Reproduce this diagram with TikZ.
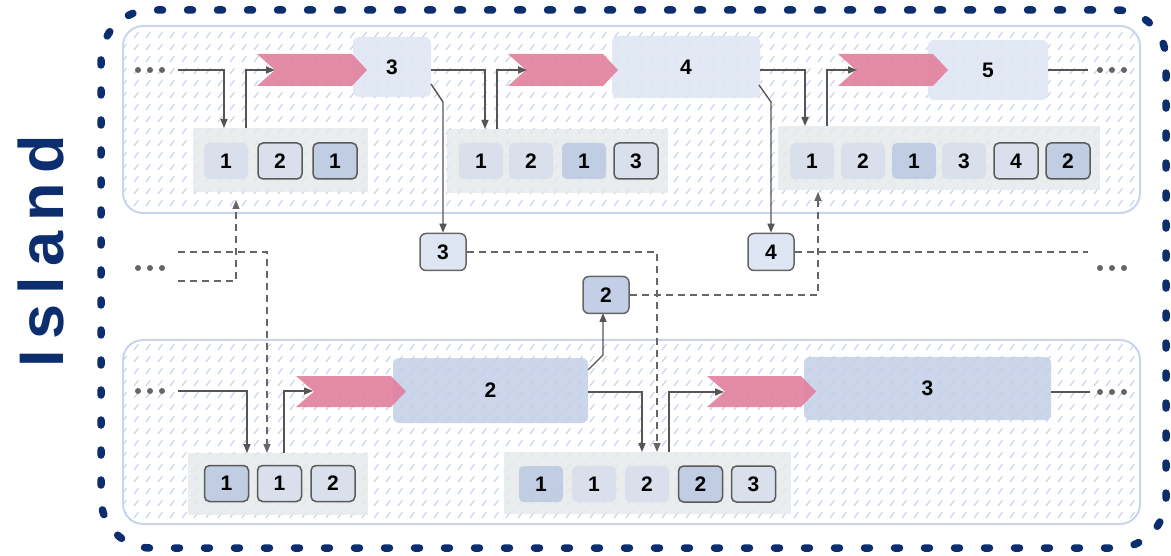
\documentclass[tikz,border=0pt]{standalone}
\usepackage{fontspec}
\setmainfont{Liberation Sans}
\newfontfamily\islandfont[LetterSpace=16]{Liberation Sans}
\usetikzlibrary{arrows.meta,patterns}

\pgfdeclarepatternformonly{hatchdash}{\pgfqpoint{0pt}{0pt}}{\pgfqpoint{12pt}{12pt}}{\pgfqpoint{12pt}{12pt}}{%
  \pgfsetlinewidth{0.9pt}%
  \pgfpathmoveto{\pgfqpoint{2pt}{2pt}}%
  \pgfpathlineto{\pgfqpoint{7pt}{8.5pt}}%
  \pgfusepath{stroke}}

\definecolor{navy}{HTML}{0C2D6E}
\definecolor{laneb}{HTML}{C9D5EC}
\definecolor{hatchc}{HTML}{B7C7E4}
\definecolor{stripc}{HTML}{E6EAEC}
\definecolor{cellL}{HTML}{D7DEEC}
\definecolor{cellD}{HTML}{B9C8E1}
\definecolor{bigL}{HTML}{DFE6F3}
\definecolor{bigD}{HTML}{C2CFE7}
\definecolor{pinkc}{HTML}{E27F9D}
\definecolor{linec}{HTML}{555555}
\definecolor{dashc}{HTML}{666666}
\definecolor{edgec}{HTML}{5A5A5A}

\newcommand\mynum{\fontsize{21}{24}\selectfont\bfseries}
\newcommand\mychev[4]{\fill[pinkc, fill opacity=.9] (#1,#3) -- ({#2-15},#3) -- (#2,{(#3+#4)/2}) -- ({#2-15},#4) -- (#1,#4) -- ({#1+18},{(#3+#4)/2}) -- cycle;}
\newcommand\mydots[2]{\fill[dashc] (#1,#2) circle (3pt) ({#1+12},#2) circle (3pt) ({#1+24},#2) circle (3pt);}

\tikzset{
  lanebox/.style={draw=laneb, line width=2pt, rounded corners=20pt},
  stripbox/.style={fill=stripc, fill opacity=.85, draw=none, inner sep=0pt},
  cellbox/.style={fill=cellL, fill opacity=.85, text opacity=1, rounded corners=5pt,
    minimum width=44pt, minimum height=36pt, inner sep=0pt, font=\mynum},
  cellD/.style={cellbox, fill=cellD},
  cellB/.style={cellbox, draw=edgec, line width=1.5pt},
  cellBD/.style={cellB, fill=cellD},
  bigbox/.style={fill=bigL, fill opacity=.85, text opacity=1, rounded corners=6pt,
    inner sep=0pt, font=\mynum},
  bigboxD/.style={bigbox, fill=bigD},
  midbox/.style={fill=bigL, draw=dashc, line width=1.5pt, rounded corners=6pt,
    minimum width=46pt, minimum height=37pt, inner sep=0pt, font=\mynum},
  midboxD/.style={midbox, fill=bigD},
  arr/.style={draw=linec, line width=1.4pt, -{Triangle[length=9pt,width=7pt]}},
  plainline/.style={draw=linec, line width=1.4pt},
  darr/.style={draw=dashc, line width=1.5pt, dash pattern=on 7pt off 5pt, -{Triangle[length=9pt,width=7pt]}},
  dline/.style={draw=dashc, line width=1.5pt, dash pattern=on 7pt off 5pt},
  outerbox/.style={draw=navy, line width=7.5pt, line cap=round, dash pattern=on 5pt off 25pt, rounded corners=50pt}
}

\begin{document}
\begin{tikzpicture}[x=1pt,y=-1pt]
\useasboundingbox (0,0) rectangle (1171,556);

% lanes
\foreach \ya/\yb in {26/213, 340/524}{
  \fill[white, rounded corners=20pt] (123,\ya) rectangle (1140,\yb);
  \fill[pattern=hatchdash, pattern color=hatchc, rounded corners=20pt] (123,\ya) rectangle (1140,\yb);
  \draw[lanebox] (123,\ya) rectangle (1140,\yb);
}

% outer island border and label
\draw[outerbox] (101,10) rectangle (1166,548);
\node[rotate=90, anchor=base, inner sep=0pt, text=navy,
  font=\islandfont\fontsize{63}{70}\selectfont\bfseries] (island) at (63,251) {Island};

% ---------- top lane ----------
\node[stripbox, minimum width=175pt, minimum height=64pt] (T1) at (280.5,160) {};
\node[cellbox] (T1a) at (226,161) {1};
\node[cellB]   (T1b) at (280,161) {2};
\node[cellBD]  (T1c) at (335,161) {1};

\node[stripbox, minimum width=221pt, minimum height=64pt] (T2) at (557.5,161) {};
\node[cellbox] (T2a) at (481,161) {1};
\node[cellbox] (T2b) at (531,161) {2};
\node[cellD]   (T2c) at (584,161) {1};
\node[cellB]   (T2d) at (636,161) {3};

\node[stripbox, minimum width=322pt, minimum height=64pt] (T3) at (939,158) {};
\node[cellbox] (T3a) at (812,161) {1};
\node[cellbox] (T3b) at (863,161) {2};
\node[cellD]   (T3c) at (914,161) {1};
\node[cellbox] (T3d) at (964,161) {3};
\node[cellB]   (T3e) at (1016,161) {4};
\node[cellBD]  (T3f) at (1068,161) {2};

\node[bigbox, minimum width=78pt, minimum height=60pt] (BX3) at (392,67) {3};
\node[bigbox, minimum width=148pt, minimum height=62pt] (BX4) at (686,67) {4};
\node[bigbox, minimum width=120pt, minimum height=60pt] (BX5) at (988,70) {5};

\mychev{257}{367}{54}{86}
\mychev{508}{618}{54}{86}
\mychev{838}{948}{54}{86}

\mydots{138}{70}
\mydots{1100}{70}

\coordinate (dTL) at (178,70);
\coordinate (T1in) at (224,128);
\coordinate (T1out) at (246,128);
\coordinate (C1n) at (275,70);
\coordinate (BX3o) at (431,70);
\coordinate (T2in) at (485,129);
\coordinate (T2out) at (497,129);
\coordinate (C2n) at (527,70);
\coordinate (BX4o) at (760,70);
\coordinate (T3in) at (805,126);
\coordinate (T3out) at (827,126);
\coordinate (C3n) at (857,70);
\coordinate (BX5o) at (1048,70);
\coordinate (eTR) at (1088,70);
\coordinate (BX3d) at (431,84);
\coordinate (k3) at (443,102);
\coordinate (BX4d) at (759,85);
\coordinate (k4) at (771,102);

\draw[arr] (dTL) -| (T1in);
\draw[arr] (T1out) |- (C1n);
\draw[arr] (BX3o) -| (T2in);
\draw[arr] (T2out) |- (C2n);
\draw[arr] (BX4o) -| (T3in);
\draw[arr] (T3out) |- (C3n);
\draw[plainline] (BX5o) -- (eTR);

% ---------- middle ----------
\node[midbox]  (M3) at (443,252) {3};
\node[midbox]  (M4) at (771,252) {4};
\node[midboxD] (M2) at (606,295) {2};

\draw[arr] (BX3d) -- (k3) -- (M3.north);
\draw[arr] (BX4d) -- (k4) -- (M4.north);

\mydots{138}{268}
\mydots{1100}{268}

\coordinate (mL1) at (178,252);
\coordinate (mL2) at (178,281);
\coordinate (B1in2) at (267,453);
\coordinate (T1in2) at (236,200);
\coordinate (B2in2) at (657,452);
\coordinate (T3in2) at (818,192);
\coordinate (mR) at (1088,252);

\draw[darr] (mL1) -| (B1in2);
\draw[darr] (mL2) -| (T1in2);
\draw[darr] (M3.east) -| (B2in2);
\draw[darr] (M2.east) -| (T3in2);
\draw[dline] (M4.east) -- (mR);

% ---------- bottom lane ----------
\node[stripbox, minimum width=180pt, minimum height=62pt] (B1) at (278,484) {};
\node[cellBD] (B1a) at (226.5,483.5) {1};
\node[cellB]  (B1b) at (279.5,483.5) {1};
\node[cellB]  (B1c) at (333,483.5) {2};

\node[stripbox, minimum width=287pt, minimum height=62pt] (B2) at (647.5,483) {};
\node[cellD]   (B2a) at (541,484) {1};
\node[cellbox] (B2b) at (594,484) {1};
\node[cellbox] (B2c) at (647,484) {2};
\node[cellBD]  (B2d) at (700.5,484) {2};
\node[cellB]   (B2e) at (753.5,484) {3};

\node[bigboxD, minimum width=195pt, minimum height=65pt] (BB2) at (490.5,390.5) {2};
\node[bigboxD, minimum width=247pt, minimum height=63pt] (BB3) at (927.5,388.5) {3};

\mychev{296}{406}{376}{407}
\mychev{707}{816}{376}{407}

\mydots{138}{391}
\mydots{1100}{392}

\coordinate (dBL) at (178,391);
\coordinate (B1in) at (247,453);
\coordinate (B1out) at (284,453);
\coordinate (D1n) at (313,391);
\coordinate (BB2o) at (588,392);
\coordinate (B2in) at (642,452);
\coordinate (BB2d) at (588,370);
\coordinate (k2) at (603,355);
\coordinate (M2s) at (603,313);
\coordinate (B2out) at (669,452);
\coordinate (D2n) at (724,392);
\coordinate (BB3o) at (1051,392);
\coordinate (eBR) at (1090,392);

\draw[arr] (dBL) -| (B1in);
\draw[arr] (B1out) |- (D1n);
\draw[arr] (BB2o) -| (B2in);
\draw[arr] (BB2d) -- (k2) -- (M2s);
\draw[arr] (B2out) |- (D2n);
\draw[plainline] (BB3o) -- (eBR);
\end{tikzpicture}
\end{document}
